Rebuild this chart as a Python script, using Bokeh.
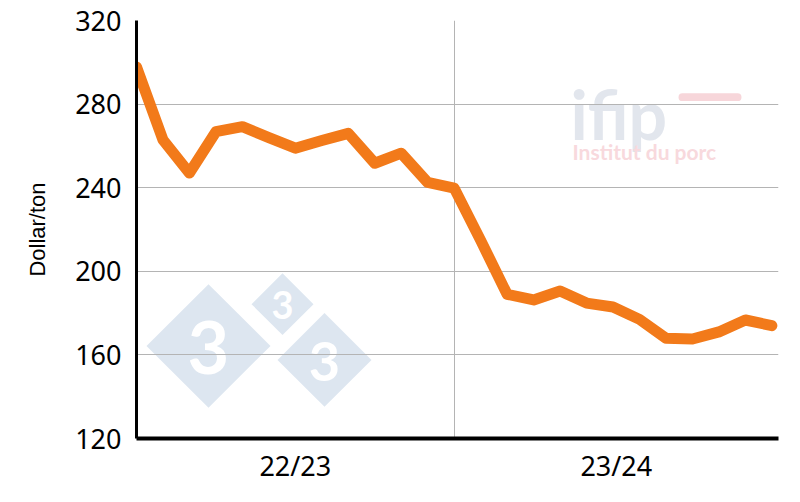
from bokeh.plotting import figure
from bokeh.models import (Range1d, FixedTicker, Label, PolyAnnotation, BoxAnnotation)
from bokeh.embed import file_html
from bokeh.resources import INLINE

# ---------------- data ----------------
seasons = ["22/23", "23/24"]
prices = [297.8, 262.9, 247.0, 266.8, 269.2, 264.0, 258.9, 262.6, 266.0, 251.7,
          256.5, 242.5, 239.8, 214.8, 189.0, 186.3, 190.6, 184.8, 182.9, 177.0,
          168.0, 167.6, 171.0, 176.7, 174.0]
y_ticks = [120, 160, 200, 240, 280, 320]

# ---------------- layout ----------------
W, H = 784, 486
FL, FT, FR, FB = 136, 20, 6, 46
FW, FH = W - FL - FR, H - FT - FB

idx = list(range(len(prices)))
x0, x1 = 0, (len(prices) - 1) + 0.25
y0, y1 = 120, 320
boundary = (len(prices) - 1) / 2.0
label_pos = [(x0 + boundary) / 2.0, (boundary + x1) / 2.0]

p = figure(width=W, height=H, output_backend="svg", toolbar_location=None,
           x_range=Range1d(x0, x1), y_range=Range1d(y0, y1),
           min_border_left=FL, min_border_right=FR, min_border_top=FT,
           min_border_bottom=FB)
p.outline_line_color = None
p.background_fill_color = "white"
p.border_fill_color = "white"

# helpers: picture pixel -> data coords
def dx(px):
    return x0 + (px - FL) / FW * (x1 - x0)

def dy(py):
    return y1 - (py - FT) / FH * (y1 - y0)

# ---------------- watermarks ----------------
wm_blue = "#dde6f0"
for cx, cy, r in [(208, 347, 62), (282, 305, 31), (324, 361, 47)]:
    p.add_layout(PolyAnnotation(xs=[dx(cx - r), dx(cx), dx(cx + r), dx(cx)],
                                ys=[dy(cy), dy(cy - r), dy(cy), dy(cy + r)],
                                fill_color=wm_blue, fill_alpha=1.0,
                                line_color=None, level="image"))
for cx, cy, fs in [(208, 349, "72px"), (282, 306, "38px"), (324, 363, "54px")]:
    p.add_layout(Label(x=dx(cx), y=dy(cy), text="3", text_align="center",
                       text_baseline="middle", text_color="white",
                       text_font="Lato", text_font_style="bold",
                       text_font_size=fs, level="image"))

p.add_layout(Label(x=dx(570), y=dy(113), text="ifip", text_align="left",
                   text_baseline="alphabetic", text_color="#e2e6ed",
                   text_font="Lato", text_font_style="bold",
                   text_font_size="68px", level="image"))
p.add_layout(BoxAnnotation(left=dx(678), right=dx(741), top=dy(93), bottom=dy(101),
                           fill_color="#f7d6da", fill_alpha=1.0, line_color=None,
                           border_radius=4, level="image"))
p.add_layout(Label(x=dx(572), y=dy(152), text="Institut du porc", text_align="left",
                   text_baseline="alphabetic", text_color="#f8d9dd",
                   text_font="Lato", text_font_style="bold",
                   text_font_size="21px", level="image"))

# ---------------- data line ----------------
p.line(idx, prices, line_color="#f27a1a", line_width=11,
       line_join="round", line_cap="round")

# ---------------- axes ----------------
p.xaxis.ticker = FixedTicker(ticks=label_pos)
p.xaxis.major_label_overrides = {label_pos[0]: seasons[0], label_pos[1]: seasons[1]}
p.xaxis.major_tick_line_color = None
p.xaxis.minor_tick_line_color = None
p.xaxis.major_tick_out = 0
p.xaxis.major_tick_in = 0
p.xaxis.axis_line_color = "black"
p.xaxis.axis_line_width = 4
p.xaxis.major_label_text_font = "Noto Sans"
p.xaxis.major_label_text_font_size = "27px"
p.xaxis.major_label_text_color = "black"
p.xaxis.major_label_standoff = 8

p.yaxis.ticker = FixedTicker(ticks=y_ticks)
p.yaxis.major_tick_line_color = None
p.yaxis.minor_tick_line_color = None
p.yaxis.major_tick_out = 0
p.yaxis.major_tick_in = 0
p.yaxis.axis_line_color = "black"
p.yaxis.axis_line_width = 3
p.yaxis.major_label_text_font = "Noto Sans"
p.yaxis.major_label_text_font_size = "27px"
p.yaxis.major_label_text_color = "black"
p.yaxis.major_label_standoff = 15
p.yaxis.axis_label = "Dollar/ton"
p.yaxis.axis_label_text_font = "Liberation Sans"
p.yaxis.axis_label_text_font_style = "normal"
p.yaxis.axis_label_text_font_size = "22px"
p.yaxis.axis_label_text_color = "black"
p.yaxis.axis_label_standoff = 22

# ---------------- grids ----------------
p.xgrid.ticker = FixedTicker(ticks=[boundary])
p.xgrid.grid_line_color = "#b4b4b4"
p.xgrid.grid_line_width = 1
p.ygrid.ticker = FixedTicker(ticks=y_ticks)
p.ygrid.grid_line_color = "#b4b4b4"
p.ygrid.grid_line_width = 1

open("out.html", "w").write(file_html(p, INLINE))
